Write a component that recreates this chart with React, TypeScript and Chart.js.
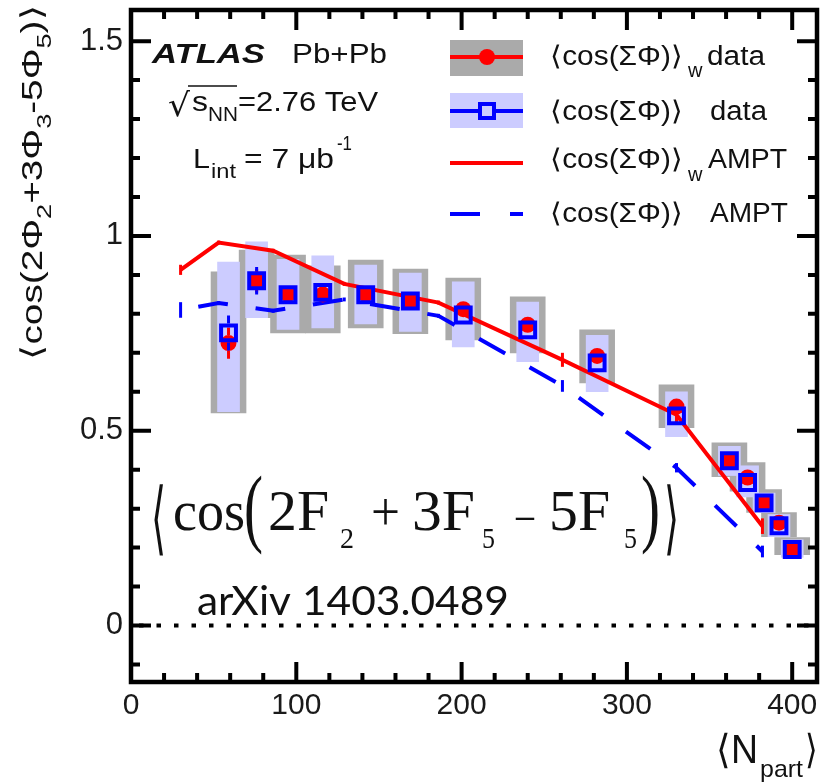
import React, { useEffect, useRef } from 'react';
import { Chart, registerables } from 'chart.js';

Chart.register(...registerables);

// ---------------- data ----------------
const nPart = [59, 76, 95, 116, 142, 169, 201, 240, 282, 330, 362, 373, 383, 392, 400];
// weighted <cos(ΣΦ)>_w data (red circles, gray systematic boxes)
const wData = [0.725, 0.885, 0.85, 0.85, 0.85, 0.833, 0.812, 0.772, 0.692, 0.562, 0.423, 0.38, 0.315, 0.264, 0.195];
const wStat = [0.04, 0.03, 0.01, 0.01, 0.01, 0.01, 0.01, 0.01, 0.01, 0.01, 0.008, 0.008, 0.008, 0.008, 0.008];
const wSysHi = [0.908, 0.964, 0.951, 0.923, 0.938, 0.915, 0.892, 0.844, 0.759, 0.618, 0.469, 0.418, 0.349, 0.29, 0.226];
const wSysLo = [0.546, 0.79, 0.751, 0.751, 0.764, 0.749, 0.733, 0.7, 0.623, 0.508, 0.382, 0.345, 0.29, 0.228, 0.182];
// unweighted <cos(ΣΦ)> data (blue squares, light-blue systematic boxes)
const uData = [0.751, 0.885, 0.849, 0.855, 0.849, 0.833, 0.797, 0.759, 0.674, 0.538, 0.423, 0.367, 0.315, 0.256, 0.195];
const uStat = [0.045, 0.035, 0.01, 0.01, 0.01, 0.01, 0.01, 0.01, 0.01, 0.01, 0.008, 0.008, 0.008, 0.008, 0.008];
const uSysHi = [0.933, 0.985, 0.94, 0.949, 0.925, 0.905, 0.882, 0.83, 0.745, 0.6, 0.46, 0.41, 0.34, 0.285, 0.22];
const uSysLo = [0.549, 0.79, 0.76, 0.764, 0.774, 0.755, 0.715, 0.677, 0.6, 0.485, 0.385, 0.33, 0.29, 0.228, 0.175];
// AMPT
const amptN = [30, 53, 86, 129, 186, 261, 330, 382];
const amptW = [0.913, 0.983, 0.962, 0.877, 0.829, 0.682, 0.541, 0.255];
const amptWErr = [0.013, 0.005, 0.005, 0.005, 0.005, 0.018, 0.02, 0.02];
const amptU = [0.81, 0.828, 0.808, 0.837, 0.795, 0.615, 0.405, 0.19];
const amptUErr = [0.02, 0.005, 0.005, 0.005, 0.005, 0.015, 0.012, 0.015];

const xTicks = [0, 100, 200, 300, 400];
const yTicks = [0, 0.5, 1, 1.5];

// ---------------- styling ----------------
const RED = '#ff0000';
const BLUE = '#0000ff';
const GRAY = '#aaaaaa';
const LBLUE = '#ccccff';
const INK = '#111111';
const SANS = '"Liberation Sans", Arial, sans-serif';
const SERIF = '"Liberation Serif", "Times New Roman", serif';

const errInfo: Record<string, { xs: number[]; ys: number[]; es: number[]; color: string; w: number; gap: number }> = {
  wdata: { xs: nPart, ys: wData, es: wStat, color: RED, w: 3, gap: 8 },
  udata: { xs: nPart, ys: uData, es: uStat, color: BLUE, w: 3, gap: 9.5 },
  wampt: { xs: amptN, ys: amptW, es: amptWErr, color: RED, w: 3, gap: 0 },
  uampt: { xs: amptN, ys: amptU, es: amptUErr, color: BLUE, w: 3, gap: 0 },
};

function txt(ctx: CanvasRenderingContext2D, s: string, x: number, y: number, font: string, w?: number) {
  ctx.save();
  ctx.font = font;
  ctx.textAlign = 'left';
  ctx.textBaseline = 'alphabetic';
  const m = ctx.measureText(s).width;
  const sx = w ? w / m : 1;
  ctx.translate(x, y);
  ctx.scale(sx, 1);
  ctx.fillStyle = INK;
  ctx.fillText(s, 0, 0);
  ctx.restore();
}

const decor = {
  id: 'decor',
  beforeDatasetsDraw(chart: any) {
    const { ctx, chartArea, scales } = chart;
    const y0 = scales.y.getPixelForValue(0);
    ctx.save();
    ctx.strokeStyle = '#000';
    ctx.lineWidth = 4;
    ctx.setLineDash([4.5, 13]);
    ctx.beginPath();
    ctx.moveTo(chartArea.left + 8, y0);
    ctx.lineTo(chartArea.right, y0);
    ctx.stroke();
    ctx.restore();
  },
  beforeDatasetDraw(chart: any, args: any) {
    const ds = chart.data.datasets[args.index];
    const info = errInfo[ds.label];
    if (!info) return;
    const { ctx, scales } = chart;
    ctx.save();
    ctx.strokeStyle = info.color;
    ctx.lineWidth = info.w;
    info.xs.forEach((xv, i) => {
      const x = scales.x.getPixelForValue(xv);
      const yc = scales.y.getPixelForValue(info.ys[i]);
      const a = scales.y.getPixelForValue(info.ys[i] + info.es[i]);
      const b = scales.y.getPixelForValue(info.ys[i] - info.es[i]);
      ctx.beginPath();
      if (info.gap > 0) {
        if (yc - info.gap > a) {
          ctx.moveTo(x, a);
          ctx.lineTo(x, yc - info.gap);
        }
        if (yc + info.gap < b) {
          ctx.moveTo(x, yc + info.gap);
          ctx.lineTo(x, b);
        }
      } else {
        ctx.moveTo(x, a);
        ctx.lineTo(x, b);
      }
      ctx.stroke();
    });
    ctx.restore();
  },
  afterDraw(chart: any) {
    const { ctx, chartArea: ca, scales } = chart;
    const xs = scales.x;
    const ys = scales.y;
    ctx.save();
    // inward ticks
    ctx.strokeStyle = '#000';
    ctx.lineWidth = 4;
    const major = 20;
    const minor = 9;
    for (let v = 0; v <= 415; v += 20) {
      const x = xs.getPixelForValue(v);
      const len = v % 100 === 0 ? major : minor;
      ctx.beginPath();
      ctx.moveTo(x, ca.bottom);
      ctx.lineTo(x, ca.bottom - len);
      ctx.moveTo(x, ca.top);
      ctx.lineTo(x, ca.top + len);
      ctx.stroke();
    }
    for (let k = -1; k <= 15; k++) {
      const v = k / 10;
      const y = ys.getPixelForValue(v);
      const len = k % 5 === 0 ? major : minor;
      ctx.beginPath();
      ctx.moveTo(ca.left, y);
      ctx.lineTo(ca.left + len, y);
      ctx.moveTo(ca.right, y);
      ctx.lineTo(ca.right - len, y);
      ctx.stroke();
    }
    // frame
    ctx.lineWidth = 4.5;
    ctx.strokeRect(ca.left, ca.top, ca.right - ca.left, ca.bottom - ca.top);

    // legend
    const lx0 = 450;
    const lx1 = 523;
    const lxc = 487;
    ctx.fillStyle = GRAY;
    ctx.fillRect(lx0, 40, lx1 - lx0, 36);
    ctx.strokeStyle = RED;
    ctx.lineWidth = 4;
    ctx.beginPath();
    ctx.moveTo(lx0, 57);
    ctx.lineTo(lx1, 57);
    ctx.stroke();
    ctx.fillStyle = RED;
    ctx.beginPath();
    ctx.arc(lxc, 57, 8, 0, Math.PI * 2);
    ctx.fill();

    ctx.fillStyle = LBLUE;
    ctx.fillRect(lx0, 93, lx1 - lx0, 35);
    ctx.strokeStyle = BLUE;
    ctx.beginPath();
    ctx.moveTo(lx0, 111);
    ctx.lineTo(lx1, 111);
    ctx.stroke();
    ctx.fillStyle = LBLUE;
    ctx.fillRect(lxc - 7, 104, 14, 14);
    ctx.strokeRect(lxc - 7, 104, 14, 14);

    ctx.strokeStyle = RED;
    ctx.beginPath();
    ctx.moveTo(lx0, 163);
    ctx.lineTo(lx1, 163);
    ctx.stroke();

    ctx.strokeStyle = BLUE;
    ctx.setLineDash([30, 30]);
    ctx.beginPath();
    ctx.moveTo(lx0, 214);
    ctx.lineTo(lx1, 214);
    ctx.stroke();
    ctx.setLineDash([]);
    ctx.restore();

    const LF = `27px ${SANS}`;
    const LS = `20px ${SANS}`;
    txt(ctx, '⟨cos(ΣΦ)⟩', 550, 65, LF, 133);
    txt(ctx, 'w', 688, 77, LS);
    txt(ctx, 'data', 707, 65, LF, 58);
    txt(ctx, '⟨cos(ΣΦ)⟩', 550, 120, LF, 133);
    txt(ctx, 'data', 710, 120, LF, 57);
    txt(ctx, '⟨cos(ΣΦ)⟩', 550, 168, LF, 133);
    txt(ctx, 'w', 688, 181, LS);
    txt(ctx, 'AMPT', 708, 168, LF, 79);
    txt(ctx, '⟨cos(ΣΦ)⟩', 550, 222, LF, 133);
    txt(ctx, 'AMPT', 710, 222, LF, 78);

    // ATLAS labels
    txt(ctx, 'ATLAS', 152, 63, `italic bold 28px ${SANS}`, 113);
    txt(ctx, 'Pb+Pb', 292, 63, `28px ${SANS}`, 95);
    txt(ctx, '√', 168, 116, `32px "DejaVu Sans", sans-serif`, 22);
    ctx.save();
    ctx.strokeStyle = INK;
    ctx.lineWidth = 1.5;
    ctx.beginPath();
    ctx.moveTo(188, 86);
    ctx.lineTo(237, 86);
    ctx.stroke();
    ctx.restore();
    txt(ctx, 's', 192, 111, `28px ${SANS}`, 16);
    txt(ctx, 'NN', 208, 121, `20px ${SANS}`, 30);
    txt(ctx, '=2.76 TeV', 238, 111, `28px ${SANS}`, 140);
    txt(ctx, 'L', 193, 168, `28px ${SANS}`, 17);
    txt(ctx, 'int', 211, 178, `20px ${SANS}`, 25);
    txt(ctx, '= 7 μb', 244, 168, `28px ${SANS}`, 90);
    txt(ctx, '-1', 337, 150, `20px ${SANS}`, 15);

    // big formula
    const FB = SERIF;
    txt(ctx, '⟨', 151, 545, `80px ${FB}`, 15);
    txt(ctx, 'cos', 173, 530, `56px ${FB}`, 72);
    txt(ctx, '(', 244, 536, `86px ${FB}`, 19);
    txt(ctx, '2F', 268, 530, `56px ${FB}`, 61);
    txt(ctx, '2', 340, 548, `30px ${FB}`, 14);
    txt(ctx, '+', 371, 530, `54px ${FB}`, 29);
    txt(ctx, '3F', 412, 530, `56px ${FB}`, 63);
    txt(ctx, '5', 482, 548, `30px ${FB}`, 13);
    txt(ctx, '–', 516, 530, `46px ${FB}`, 18);
    txt(ctx, '5F', 549, 530, `56px ${FB}`, 61);
    txt(ctx, '5', 624, 548, `30px ${FB}`, 13);
    txt(ctx, ')', 641, 536, `86px ${FB}`, 19);
    txt(ctx, '⟩', 664, 545, `80px ${FB}`, 15);

    txt(ctx, 'arXiv 1403.0489', 197, 615, `40px Lato, "Open Sans", sans-serif`, 312);

    // x title
    txt(ctx, '⟨N', 716, 763, `40px ${SANS}`, 42);
    txt(ctx, 'part', 760, 777, `24px ${SANS}`, 43);
    txt(ctx, '⟩', 805, 763, `40px ${SANS}`, 13);

    // y title (rotated)
    ctx.save();
    ctx.translate(42, 360);
    ctx.rotate(-Math.PI / 2);
    const parts: [string, number, string][] = [
      ['⟨cos(2Φ', 0, `30px ${SANS}`],
      ['2', 9, `21px ${SANS}`],
      ['+3Φ', 0, `30px ${SANS}`],
      ['3', 9, `21px ${SANS}`],
      ['-5Φ', 0, `30px ${SANS}`],
      ['5', 9, `21px ${SANS}`],
      [')⟩', 0, `30px ${SANS}`],
    ];
    let tot = 0;
    parts.forEach(([s, , f]) => {
      ctx.font = f;
      tot += ctx.measureText(s).width;
    });
    const sc = 355 / tot;
    ctx.scale(sc, 1);
    ctx.fillStyle = INK;
    ctx.textBaseline = 'alphabetic';
    let cx = 0;
    parts.forEach(([s, dy, f]) => {
      ctx.font = f;
      ctx.fillText(s, cx, dy);
      cx += ctx.measureText(s).width;
    });
    ctx.restore();
  },
};

export default function App() {
  const ref = useRef<HTMLCanvasElement>(null);
  useEffect(() => {
    const box = (lo: number[], hi: number[]) => nPart.map((x, i) => ({ x, y: [lo[i], hi[i]] }));
    const pts = (xs: number[], ys: number[]) => xs.map((x, i) => ({ x, y: ys[i] }));
    const chart = new Chart(ref.current as HTMLCanvasElement, {
      type: 'bar',
      data: {
        datasets: [
          {
            type: 'bar',
            label: 'wsys',
            data: box(wSysLo, wSysHi) as any,
            backgroundColor: GRAY,
            barThickness: 35,
            grouped: false,
            order: 10,
          } as any,
          {
            type: 'bar',
            label: 'usys',
            data: box(uSysLo, uSysHi) as any,
            backgroundColor: LBLUE,
            barThickness: 22,
            grouped: false,
            order: 9,
          } as any,
          {
            type: 'line',
            label: 'wampt',
            data: pts(amptN, amptW),
            borderColor: RED,
            borderWidth: 4,
            pointRadius: 0,
            fill: false,
            tension: 0,
            order: 7,
          },
          {
            type: 'line',
            label: 'uampt',
            data: pts(amptN, amptU),
            borderColor: BLUE,
            borderWidth: 4,
            borderDash: [30, 28],
            borderDashOffset: 40,
            pointRadius: 0,
            fill: false,
            tension: 0,
            order: 6,
          },
          {
            type: 'line',
            label: 'wdata',
            data: pts(nPart, wData),
            showLine: false,
            pointStyle: 'circle',
            pointRadius: 8,
            backgroundColor: RED,
            borderWidth: 0,
            order: 5,
          },
          {
            type: 'line',
            label: 'udata',
            data: pts(nPart, uData),
            showLine: false,
            pointStyle: 'rect',
            pointRadius: 10.5,
            backgroundColor: 'rgba(0,0,0,0)',
            borderColor: BLUE,
            borderWidth: 4,
            order: 4,
          },
        ],
      },
      options: {
        responsive: false,
        animation: false,
        devicePixelRatio: 1,
        layout: { autoPadding: false, padding: { top: 10, right: 4, left: 0, bottom: 0 } },
        plugins: { legend: { display: false }, tooltip: { enabled: false } },
        scales: {
          x: {
            type: 'linear',
            min: 0,
            max: 415,
            offset: false,
            grid: { display: false, drawTicks: false },
            border: { display: false },
            ticks: {
              stepSize: 100,
              includeBounds: false,
              padding: 6,
              color: '#1a1a1a',
              font: { family: SANS, size: 30 },
              maxRotation: 0,
              callback: (v: any) => (xTicks.includes(Number(v)) ? String(v) : ''),
            },
            afterFit: (s: any) => {
              s.height = 102;
              s.paddingLeft = 0;
              s.paddingRight = 0;
            },
          },
          y: {
            type: 'linear',
            min: -0.145,
            max: 1.58,
            grid: { display: false, drawTicks: false },
            border: { display: false },
            ticks: {
              stepSize: 0.5,
              includeBounds: false,
              padding: 8,
              color: '#1a1a1a',
              font: { family: SANS, size: 31 },
              callback: (v: any) => {
                const r = Math.round(Number(v) * 10) / 10;
                return yTicks.includes(r) ? String(r) : '';
              },
            },
            afterFit: (s: any) => {
              s.width = 131;
              s.paddingTop = 0;
              s.paddingBottom = 0;
            },
          },
        },
      } as any,
      plugins: [decor],
    });
    return () => chart.destroy();
  }, []);
  return (
    <div style={{ position: 'absolute', left: 0, top: 0, width: 821, height: 784, background: '#fff' }}>
      <canvas ref={ref} width={821} height={784} style={{ width: 821, height: 784, display: 'block' }} />
    </div>
  );
}
